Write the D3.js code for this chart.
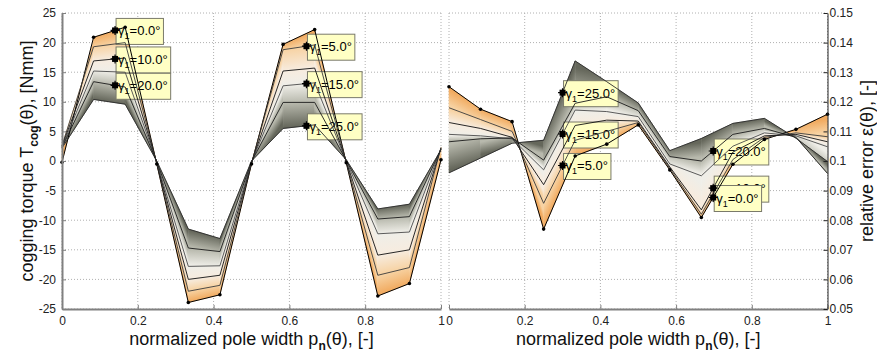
<!DOCTYPE html>
<html><head><meta charset="utf-8">
<script src="https://cdn.jsdelivr.net/npm/d3@7/dist/d3.min.js"></script>
<style>
body{margin:0;background:#fff;}
text{font-family:"Liberation Sans",Arial,sans-serif;}
</style></head><body>
<svg id="c" width="877" height="358"></svg>
<script>
// ---------- data ----------
const poleWidth = [0, 1/12, 2/12, 3/12, 4/12, 5/12, 6/12, 7/12, 8/12, 9/12, 10/12, 11/12, 1];
const gammaValues = [0, 5, 10, 15, 20, 25];

const torqueG0  = [-0.2, 20.9, 22.6, -0.5, -23.9, -22.6, -0.5, 19.7, 22.2, -0.3, -22.8, -20.7, 0.2];
const torqueG5  = [ 2.6, 19.3, 20.0, -0.4, -22.0, -21.0, -0.4, 18.8, 19.6, -0.2, -19.3, -18.0, 2.3];
const torqueG10 = [ 2.5, 16.9, 17.4, -0.3, -20.0, -19.3, -0.3, 15.2, 15.7, -0.1, -15.9, -15.0, 2.2];
const torqueG15 = [ 2.4, 15.2, 15.0, -0.2, -17.8, -17.7, -0.2, 12.7, 13.2,  0.0, -12.3, -12.0, 2.1];
const torqueG20 = [ 2.3, 13.4, 12.5, -0.1, -14.7, -15.3, -0.1,  9.9,  9.9,  0.1,  -9.8,  -9.4, 2.0];
const torqueG25 = [ 2.2, 10.4,  9.6,  0.0, -11.5, -13.1,  0.0,  5.5,  6.1,  0.2,  -8.1,  -7.3, 1.9];

const errorG0  = [0.1251, 0.1175, 0.1133, 0.0770, 0.1017, 0.1057, 0.1122, 0.0970, 0.0809, 0.0989, 0.1073, 0.1107, 0.1158];
const errorG5  = [0.1180, 0.1140, 0.1100, 0.0857, 0.1070, 0.1100, 0.1130, 0.0975, 0.0820, 0.1005, 0.1080, 0.1095, 0.1082];
const errorG10 = [0.1130, 0.1110, 0.1080, 0.0920, 0.1120, 0.1138, 0.1135, 0.0980, 0.0835, 0.1030, 0.1085, 0.1090, 0.1065];
const errorG15 = [0.1090, 0.1085, 0.1075, 0.0970, 0.1172, 0.1167, 0.1150, 0.0990, 0.0950, 0.1050, 0.1095, 0.1085, 0.1048];
const errorG20 = [0.1065, 0.1075, 0.1078, 0.1003, 0.1195, 0.1217, 0.1170, 0.1015, 0.1000, 0.1090, 0.1110, 0.1080, 0.0958];
const errorG25 = [0.0960, 0.1010, 0.1060, 0.1070, 0.1338, 0.1268, 0.1196, 0.1035, 0.1076, 0.1127, 0.1144, 0.1077, 0.0998];

const xTicks = [0, 0.2, 0.4, 0.6, 0.8, 1];
const xTickLabels = ["0", "0.2", "0.4", "0.6", "0.8", "1"];
const torqueTicks = [-25, -20, -15, -10, -5, 0, 5, 10, 15, 20, 25];
const torqueTickLabels = ["-25", "-20", "-15", "-10", "-5", "0", "5", "10", "15", "20", "25"];
const errorTicks = [0.05, 0.06, 0.07, 0.08, 0.09, 0.10, 0.11, 0.12, 0.13, 0.14, 0.15];
const errorTickLabels = ["0.05", "0.06", "0.07", "0.08", "0.09", "0.1", "0.11", "0.12", "0.13", "0.14", "0.15"];

// data tips (gamma, pole width)
const torqueTipGamma = [0, 10, 20, 5, 15, 25];
const torqueTipX     = [0.14, 0.14, 0.14, 0.645, 0.645, 0.645];
const errorTipGamma  = [25, 15, 5, 20, 10, 0];
const errorTipX      = [0.30, 0.30, 0.30, 0.698, 0.698, 0.698];

const torqueSeries = [torqueG0, torqueG5, torqueG10, torqueG15, torqueG20, torqueG25];
const errorSeries  = [errorG0, errorG5, errorG10, errorG15, errorG20, errorG25];

// ---------- drawing ----------
const svg = d3.select("#c");
const defs = svg.append("defs");
const colorOf = d3.scaleLinear().domain([0, 5, 10, 15, 20, 25])
  .range(["#f1aa5f", "#f7d2a2", "#f7ecdf", "#efeee8", "#b8b9ad", "#65675b"]);
const lineColors = ["#000", "#3a3a3a", "#111", "#4a4a4a", "#1a1a1a", "#2a2a2a"];

const plotTop = 13, plotBottom = 309;
const xL = d3.scaleLinear([0, 1], [62, 441]);
const yL = d3.scaleLinear([-25, 25], [plotBottom, plotTop]);
const xR = d3.scaleLinear([0, 1], [449, 827.5]);
const yR = d3.scaleLinear([0.05, 0.15], [plotBottom, plotTop]);

function interp(xs, ys, x) {
  let j = Math.max(0, Math.min(xs.length - 2, d3.bisectRight(xs, x) - 1));
  const t = (x - xs[j]) / (xs[j + 1] - xs[j]);
  return ys[j] + t * (ys[j + 1] - ys[j]);
}

function grid(g, x, y, yt) {
  const gg = g.append("g").attr("stroke", "#b0b0b0").attr("stroke-width", 1).attr("stroke-dasharray", "1,2");
  xTicks.forEach(v => gg.append("line").attr("x1", x(v)).attr("x2", x(v)).attr("y1", plotTop).attr("y2", plotBottom));
  yt.forEach(v => gg.append("line").attr("x1", x.range()[0]).attr("x2", x.range()[1]).attr("y1", y(v)).attr("y2", y(v)));
}

function surface(g, id, series, x, y) {
  const sg = g.append("g");
  for (let b = 0; b < series.length - 1; b++) {
    for (let j = 0; j < poleWidth.length - 1; j++) {
      const x0 = x(poleWidth[j]), x1 = x(poleWidth[j + 1]);
      const a0 = y(series[b][j]), a1 = y(series[b][j + 1]);
      const c0 = y(series[b + 1][j]), c1 = y(series[b + 1][j + 1]);
      const mx = (x0 + x1) / 2, ma = (a0 + a1) / 2, mc = (c0 + c1) / 2;
      let dx = x1 - x0, dy = ((a1 - a0) + (c1 - c0)) / 2;
      const L = Math.hypot(dx, dy); dx /= L; dy /= L;
      const nx = -dy, ny = dx;
      let d = (mc - ma) * ny;
      if (Math.abs(d) < 0.3) d = d < 0 ? -0.3 : 0.3;
      const gid = `${id}-${b}-${j}`;
      const lg = defs.append("linearGradient").attr("id", gid).attr("gradientUnits", "userSpaceOnUse")
        .attr("x1", mx).attr("y1", ma).attr("x2", mx + nx * d).attr("y2", ma + ny * d);
      lg.append("stop").attr("offset", 0).attr("stop-color", colorOf(gammaValues[b]));
      lg.append("stop").attr("offset", 1).attr("stop-color", colorOf(gammaValues[b + 1]));
      sg.append("path")
        .attr("d", `M${x0},${a0}L${x1},${a1}L${x1},${c1}L${x0},${c0}Z`)
        .attr("fill", `url(#${gid})`).attr("stroke", `url(#${gid})`).attr("stroke-width", 0.6);
    }
  }
}

function seriesLines(g, series, x, y) {
  const line = d3.line().x((d, i) => x(poleWidth[i])).y(d => y(d));
  series.forEach((s, k) => {
    g.append("path").attr("d", line(s)).attr("fill", "none")
      .attr("stroke", lineColors[k]).attr("stroke-width", k === 0 ? 1 : 0.9);
  });
  g.selectAll(null).data(series[0]).enter().append("circle")
    .attr("cx", (d, i) => x(poleWidth[i])).attr("cy", d => y(d)).attr("r", 1.8).attr("fill", "#000");
}

function tips(g, gammas, xsTip, series, x, y) {
  const items = gammas.map((gm, i) => {
    const k = gammaValues.indexOf(gm);
    return { gm, px: x(xsTip[i]), py: y(interp(poleWidth, series[k], xsTip[i])) };
  });
  items.forEach(it => {
    const tg = g.append("g");
    const rect = tg.append("rect").attr("fill", "#ffffc4").attr("stroke", "#7a7a6a").attr("stroke-width", 1);
    const t = tg.append("text").attr("x", it.px + 3).attr("y", it.py + 5)
      .attr("font-size", 13).attr("fill", "#000");
    t.append("tspan").text("γ");
    t.append("tspan").attr("font-size", 9).attr("dy", 4).text("1");
    t.append("tspan").attr("dy", -4).text("=" + d3.format(".1f")(it.gm) + "°");
    const w = t.node().getComputedTextLength();
    rect.attr("x", it.px + 1).attr("y", it.py - 12).attr("width", w + 5).attr("height", 26);
  });
  return items;
}

function tipMarkers(g, items) {
  items.forEach(it => {
    g.append("rect").attr("x", it.px - 3).attr("y", it.py - 3).attr("width", 6).attr("height", 6).attr("fill", "#000");
    g.append("path").attr("d", `M${it.px - 4.5},${it.py}H${it.px + 4.5}M${it.px},${it.py - 4.5}V${it.py + 4.5}`)
      .attr("stroke", "#000").attr("stroke-width", 1.2);
  });
}

function styleAxis(sel, color, width) {
  sel.select(".domain").attr("stroke", color).attr("stroke-width", width);
  sel.selectAll(".tick line").attr("stroke", color);
  sel.selectAll(".tick text").attr("font-size", 12).attr("fill", "#222")
    .attr("font-family", '"Liberation Sans",Arial,sans-serif');
}

// ---- left panel ----
const gl = svg.append("g");
grid(gl, xL, yL, torqueTicks);
surface(gl, "L", torqueSeries, xL, yL);
const tipsL = tips(gl, torqueTipGamma, torqueTipX, torqueSeries, xL, yL);
seriesLines(gl, torqueSeries, xL, yL);
tipMarkers(gl, tipsL);

const axLB = gl.append("g").attr("transform", `translate(0,${plotBottom})`)
  .call(d3.axisBottom(xL).tickValues(xTicks).tickFormat((d, i) => xTickLabels[i]).tickSize(-4).tickSizeOuter(0).tickPadding(7));
styleAxis(axLB, "#808080", 2);
const axLL = gl.append("g").attr("transform", `translate(62,0)`)
  .call(d3.axisLeft(yL).tickValues(torqueTicks).tickFormat((d, i) => torqueTickLabels[i]).tickSize(-4).tickSizeOuter(0).tickPadding(6));
styleAxis(axLL, "#808080", 2);

// ---- right panel ----
const gr = svg.append("g");
grid(gr, xR, yR, errorTicks);
surface(gr, "R", errorSeries, xR, yR);
const tipsR = tips(gr, errorTipGamma, errorTipX, errorSeries, xR, yR);
seriesLines(gr, errorSeries, xR, yR);
tipMarkers(gr, tipsR);

const axRB = gr.append("g").attr("transform", `translate(0,${plotBottom})`)
  .call(d3.axisBottom(xR).tickValues(xTicks).tickFormat((d, i) => xTickLabels[i]).tickSize(-4).tickSizeOuter(0).tickPadding(7));
styleAxis(axRB, "#808080", 2);
const axRR = gr.append("g").attr("transform", `translate(827.5,0)`)
  .call(d3.axisRight(yR).tickValues(errorTicks).tickFormat((d, i) => errorTickLabels[i]).tickSize(-4).tickSizeOuter(0).tickPadding(2));
styleAxis(axRR, "#222", 1);

// ---- axis titles ----
function xTitle(cx) {
  const t = svg.append("text").attr("x", cx).attr("y", 345).attr("text-anchor", "middle")
    .attr("font-size", 18).attr("fill", "#111");
  t.append("tspan").text("normalized pole width p");
  t.append("tspan").attr("font-size", 12).attr("font-weight", "bold").attr("dy", 5).text("n");
  t.append("tspan").attr("dy", -5).text("(θ), [-]");
}
xTitle((62 + 441) / 2);
xTitle((449 + 827.5) / 2);

const yt = svg.append("text").attr("transform", `translate(33,${(plotTop + plotBottom) / 2}) rotate(-90)`)
  .attr("text-anchor", "middle").attr("font-size", 18).attr("fill", "#111");
yt.append("tspan").text("cogging torque T");
yt.append("tspan").attr("font-size", 12).attr("font-weight", "bold").attr("dy", 5).text("cog");
yt.append("tspan").attr("dy", -5).text("(θ), [Nmm]");

svg.append("text").attr("transform", `translate(873,${(plotTop + plotBottom) / 2}) rotate(-90)`)
  .attr("text-anchor", "middle").attr("font-size", 18).attr("fill", "#111")
  .text("relative error ε(θ), [-]");
</script>
</body></html>
